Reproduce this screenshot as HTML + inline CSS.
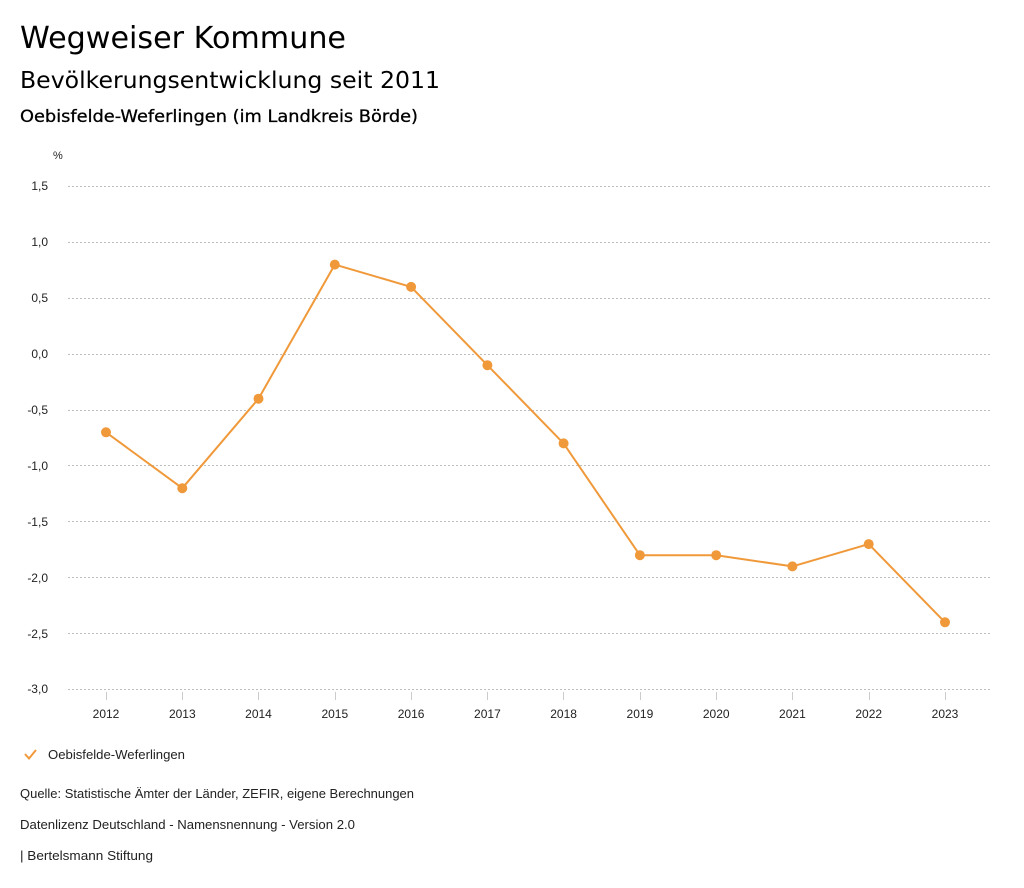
<!DOCTYPE html>
<html><head><meta charset="utf-8"><style>
html,body{margin:0;padding:0;background:#fff;}
svg{display:block;}
</style></head><body>
<svg width="1024" height="888" viewBox="0 0 1024 888" xmlns="http://www.w3.org/2000/svg">
<g font-family="'DejaVu Sans', sans-serif" fill="#000">
<text x="20" y="48" font-size="30" textLength="326" lengthAdjust="spacingAndGlyphs">Wegweiser Kommune</text>
<text x="20" y="88" font-size="23" textLength="420" lengthAdjust="spacingAndGlyphs">Bevölkerungsentwicklung seit 2011</text>
<text x="20" y="122" font-size="17" font-weight="500" stroke="#000" stroke-width="0.3" textLength="398" lengthAdjust="spacingAndGlyphs">Oebisfelde-Weferlingen (im Landkreis Börde)</text>
</g>
<g font-family="'Liberation Sans', sans-serif" font-size="12" fill="#222">
<text x="53" y="159" font-size="11">%</text>
<g text-anchor="end">
<text x="48" y="190">1,5</text>
<text x="48" y="246">1,0</text>
<text x="48" y="302">0,5</text>
<text x="48" y="358">0,0</text>
<text x="48" y="414">-0,5</text>
<text x="48" y="470">-1,0</text>
<text x="48" y="526">-1,5</text>
<text x="48" y="582">-2,0</text>
<text x="48" y="638">-2,5</text>
<text x="48" y="693">-3,0</text>
</g>
</g>
<g stroke="#bdbdbd" stroke-width="1" stroke-dasharray="2,2">
<line x1="68" y1="186.5" x2="990" y2="186.5"/>
<line x1="68" y1="242.5" x2="990" y2="242.5"/>
<line x1="68" y1="298.5" x2="990" y2="298.5"/>
<line x1="68" y1="354.5" x2="990" y2="354.5"/>
<line x1="68" y1="410.5" x2="990" y2="410.5"/>
<line x1="68" y1="465.5" x2="990" y2="465.5"/>
<line x1="68" y1="521.5" x2="990" y2="521.5"/>
<line x1="68" y1="577.5" x2="990" y2="577.5"/>
<line x1="68" y1="633.5" x2="990" y2="633.5"/>
<line x1="68" y1="689.5" x2="990" y2="689.5"/>
</g>
<g stroke="#ccc" stroke-width="1">
<line x1="106.5" y1="692" x2="106.5" y2="700"/>
<line x1="182.5" y1="692" x2="182.5" y2="700"/>
<line x1="258.5" y1="692" x2="258.5" y2="700"/>
<line x1="335.5" y1="692" x2="335.5" y2="700"/>
<line x1="411.5" y1="692" x2="411.5" y2="700"/>
<line x1="487.5" y1="692" x2="487.5" y2="700"/>
<line x1="563.5" y1="692" x2="563.5" y2="700"/>
<line x1="640.5" y1="692" x2="640.5" y2="700"/>
<line x1="716.5" y1="692" x2="716.5" y2="700"/>
<line x1="792.5" y1="692" x2="792.5" y2="700"/>
<line x1="869.5" y1="692" x2="869.5" y2="700"/>
<line x1="945.5" y1="692" x2="945.5" y2="700"/>
</g>
<g font-family="'Liberation Sans', sans-serif" font-size="12" fill="#222" text-anchor="middle">
<text x="106" y="718">2012</text>
<text x="182.3" y="718">2013</text>
<text x="258.5" y="718">2014</text>
<text x="334.8" y="718">2015</text>
<text x="411.1" y="718">2016</text>
<text x="487.4" y="718">2017</text>
<text x="563.6" y="718">2018</text>
<text x="639.9" y="718">2019</text>
<text x="716.2" y="718">2020</text>
<text x="792.4" y="718">2021</text>
<text x="868.7" y="718">2022</text>
<text x="945" y="718">2023</text>
</g>
<polyline fill="none" stroke="#f0993a" stroke-width="2" stroke-linejoin="round" points="106,432.3 182.3,488.2 258.5,398.7 334.8,264.6 411.1,286.9 487.4,365.2 563.6,443.4 639.9,555.2 716.2,555.2 792.4,566.4 868.7,544.1 945,622.3"/>
<g fill="#f0993a">
<circle cx="106" cy="432.3" r="5"/>
<circle cx="182.3" cy="488.2" r="5"/>
<circle cx="258.5" cy="398.7" r="5"/>
<circle cx="334.8" cy="264.6" r="5"/>
<circle cx="411.1" cy="286.9" r="5"/>
<circle cx="487.4" cy="365.2" r="5"/>
<circle cx="563.6" cy="443.4" r="5"/>
<circle cx="639.9" cy="555.2" r="5"/>
<circle cx="716.2" cy="555.2" r="5"/>
<circle cx="792.4" cy="566.4" r="5"/>
<circle cx="868.7" cy="544.1" r="5"/>
<circle cx="945" cy="622.3" r="5"/>
</g>
<polyline fill="none" stroke="#f0993a" stroke-width="2" points="25,754 29,758.5 36,750"/>
<g font-family="'Liberation Sans', sans-serif" font-size="13" fill="#222">
<text x="48" y="759" textLength="137" lengthAdjust="spacingAndGlyphs">Oebisfelde-Weferlingen</text>
<text x="20" y="798" textLength="394" lengthAdjust="spacingAndGlyphs">Quelle: Statistische Ämter der Länder, ZEFIR, eigene Berechnungen</text>
<text x="20" y="829" textLength="335" lengthAdjust="spacingAndGlyphs">Datenlizenz Deutschland - Namensnennung - Version 2.0</text>
<text x="20" y="860" textLength="133" lengthAdjust="spacingAndGlyphs">| Bertelsmann Stiftung</text>
</g>
</svg>
</body></html>
